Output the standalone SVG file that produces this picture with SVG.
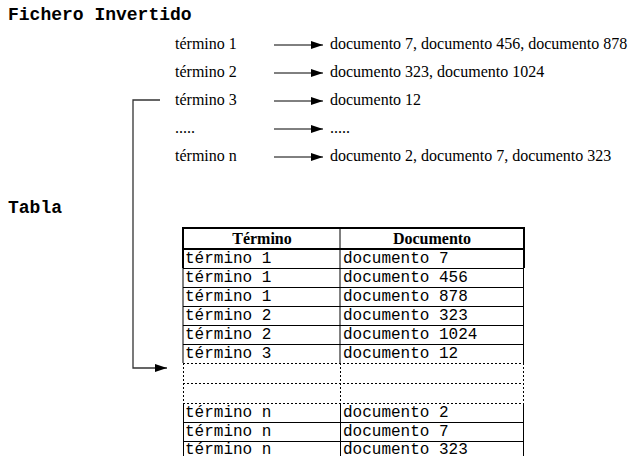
<svg xmlns="http://www.w3.org/2000/svg" width="636" height="456" viewBox="0 0 636 456">
<style>
.title{font-family:"Liberation Mono","Courier New",monospace;font-weight:bold;font-size:18px;fill:#000}
.serif{font-family:"Liberation Serif","Times New Roman",serif;font-size:16px;fill:#000}
.hdr{font-family:"Liberation Serif","Times New Roman",serif;font-size:16px;font-weight:bold;fill:#000;text-anchor:middle}
.mono{font-family:"Liberation Mono","Courier New",monospace;font-size:16px;fill:#000}
.thin{stroke:#000;stroke-width:1;fill:none}
.thick{stroke:#000;stroke-width:2;fill:none}
.dash{stroke:#000;stroke-width:1;fill:none;stroke-dasharray:2 2}
.conn{stroke:#000;stroke-width:1;fill:none}
.brk{stroke:#333;stroke-width:1.3;fill:none}
</style>
<defs>
<marker id="ah" viewBox="0 0 12 8" refX="12" refY="4" markerWidth="12" markerHeight="8" markerUnits="userSpaceOnUse" orient="auto">
<path d="M0,0 L12,4 L0,8 Z" fill="#000"/>
</marker>
</defs>
<rect width="636" height="456" fill="#fff"/>

<g id="titles">
<text class="title" x="8" y="20">Fichero Invertido</text>
<text class="title" x="8" y="213">Tabla</text>
</g>

<g id="terms">
<g id="term1"><text class="serif" x="175" y="49">término 1</text></g>
<g id="term2"><text class="serif" x="175" y="77">término 2</text></g>
<g id="term3"><text class="serif" x="175" y="105">término 3</text></g>
<g id="termdots"><text class="serif" x="175" y="133">.....</text></g>
<g id="termn"><text class="serif" x="175" y="161">término n</text></g>
</g>

<g id="postings">
<g id="post1"><text class="serif" x="330" y="49">documento 7, documento 456, documento 878</text></g>
<g id="post2"><text class="serif" x="330" y="77">documento 323, documento 1024</text></g>
<g id="post3"><text class="serif" x="330" y="105">documento 12</text></g>
<g id="postdots"><text class="serif" x="330" y="133">.....</text></g>
<g id="postn"><text class="serif" x="330" y="161">documento 2, documento 7, documento 323</text></g>
</g>

<g id="connectors">
<line class="conn" x1="274" y1="45" x2="323" y2="45" marker-end="url(#ah)"/>
<line class="conn" x1="274" y1="73" x2="323" y2="73" marker-end="url(#ah)"/>
<line class="conn" x1="274" y1="101" x2="323" y2="101" marker-end="url(#ah)"/>
<line class="conn" x1="274" y1="129" x2="323" y2="129" marker-end="url(#ah)"/>
<line class="conn" x1="274" y1="157" x2="323" y2="157" marker-end="url(#ah)"/>
<path class="brk" d="M160,100 H133 V368 H167" marker-end="url(#ah)"/>
</g>

<g id="table">
<path class="thick" d="M183,268 V228 H524 V268"/>
<line class="thick" x1="183" y1="249" x2="524" y2="249"/>
<line class="thin" x1="340" y1="228" x2="340" y2="363"/>
<line class="thin" x1="183" y1="268" x2="183" y2="363"/>
<line class="thin" x1="523.5" y1="268" x2="523.5" y2="363"/>
<line class="thin" x1="183" y1="268.5" x2="524" y2="268.5"/>
<line class="thin" x1="183" y1="287.5" x2="524" y2="287.5"/>
<line class="thin" x1="183" y1="306.5" x2="524" y2="306.5"/>
<line class="thin" x1="183" y1="325.5" x2="524" y2="325.5"/>
<line class="thin" x1="183" y1="344.5" x2="524" y2="344.5"/>
<line class="dash" x1="183" y1="363.5" x2="524" y2="363.5"/>
<line class="dash" x1="183" y1="383.5" x2="524" y2="383.5"/>
<line class="dash" x1="183" y1="403.5" x2="524" y2="403.5"/>
<line class="dash" x1="183.5" y1="363" x2="183.5" y2="403"/>
<line class="dash" x1="340.5" y1="363" x2="340.5" y2="403"/>
<line class="dash" x1="523.5" y1="363" x2="523.5" y2="403"/>
<line class="thin" x1="183.5" y1="403" x2="183.5" y2="456"/>
<line class="thin" x1="340.5" y1="403" x2="340.5" y2="456"/>
<line class="thin" x1="523.5" y1="403" x2="523.5" y2="456"/>
<line class="thin" x1="183" y1="422.5" x2="524" y2="422.5"/>
<line class="thin" x1="183" y1="441.5" x2="524" y2="441.5"/>

<text class="hdr" x="262" y="244">Término</text>
<text class="hdr" x="432" y="244">Documento</text>

<text class="mono" x="185" y="263">término 1</text><text class="mono" x="343" y="263">documento 7</text>
<text class="mono" x="185" y="282">término 1</text><text class="mono" x="343" y="282">documento 456</text>
<text class="mono" x="185" y="301">término 1</text><text class="mono" x="343" y="301">documento 878</text>
<text class="mono" x="185" y="320">término 2</text><text class="mono" x="343" y="320">documento 323</text>
<text class="mono" x="185" y="339">término 2</text><text class="mono" x="343" y="339">documento 1024</text>
<text class="mono" x="185" y="358">término 3</text><text class="mono" x="343" y="358">documento 12</text>
<text class="mono" x="185" y="417">término n</text><text class="mono" x="343" y="417">documento 2</text>
<text class="mono" x="185" y="436">término n</text><text class="mono" x="343" y="436">documento 7</text>
<text class="mono" x="185" y="454">término n</text><text class="mono" x="343" y="454">documento 323</text>
</g>
</svg>
